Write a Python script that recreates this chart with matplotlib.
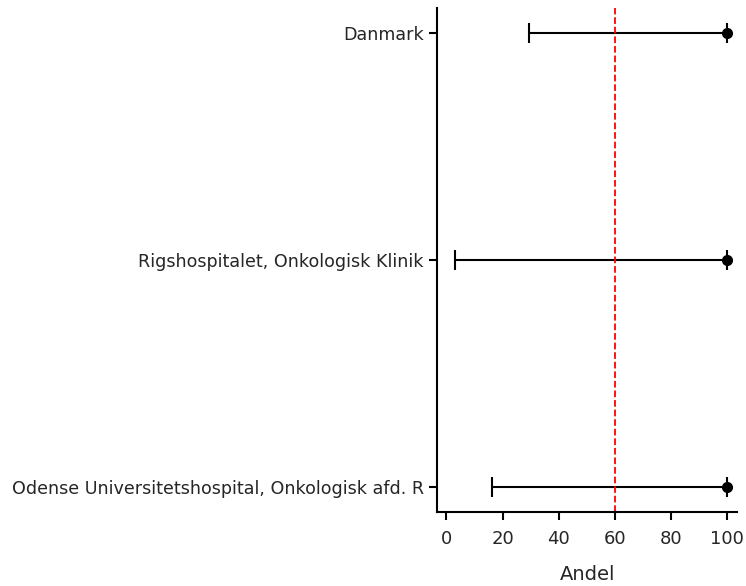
import numpy as np
import matplotlib.pyplot as plt

plt.rcParams["font.family"] = ["DejaVu Sans"]
plt.rcParams["text.color"] = "0.15"
plt.rcParams["xtick.labelcolor"] = "0.15"
plt.rcParams["ytick.labelcolor"] = "0.15"
plt.rcParams["axes.labelcolor"] = "0.15"

# Andel (%) per enhed: punktestimat og nedre grænse
units = ["Danmark", "Rigshospitalet, Onkologisk Klinik",
         "Odense Universitetshospital, Onkologisk afd. R"]
estimate = [100, 100, 100]
lower = [29.5, 3.0, 16.3]
upper = [100, 100, 100]
target = 60

fig = plt.figure(figsize=(7.46, 5.86), dpi=100)
ax = fig.add_axes([0.586, 0.126, 0.402, 0.86])

y = np.arange(len(units))[::-1]
est = np.array(estimate)
xerr = [est - np.array(lower), np.array(upper) - est]
ax.errorbar(est, y, xerr=xerr, fmt="o", color="black", ecolor="black",
            elinewidth=1.5, capsize=7.5, capthick=1.5, markersize=7)
ax.axvline(target, color="red", linestyle="--", linewidth=1.3)

ax.set_yticks(y)
ax.set_yticklabels(units, fontsize=12.6)
ax.set_xticks([0, 20, 40, 60, 80, 100])
ax.tick_params(axis="x", labelsize=13, length=6, width=1.5, pad=7)
ax.tick_params(axis="y", length=6, width=1.5)
ax.set_xlim(-3.3, 103.5)
ax.set_ylim(-0.11, 2.11)
ax.set_xlabel("Andel", fontsize=14, labelpad=12)
for s in ["top", "right"]:
    ax.spines[s].set_visible(False)
for s in ["left", "bottom"]:
    ax.spines[s].set_linewidth(1.5)

fig.savefig("out.png", dpi=100)
